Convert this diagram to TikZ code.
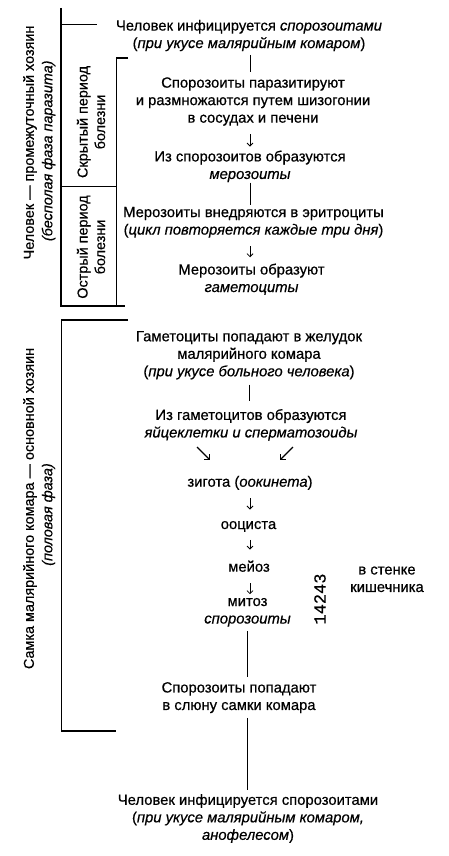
\documentclass[tikz,border=0pt]{standalone}
\usepackage{fontspec}
\setmainfont{Liberation Sans}[RawFeature={embolden=0.5}]
\newfontfamily\digitfont{Liberation Mono}[RawFeature={embolden=0.5}]
\usetikzlibrary{arrows.meta,calc}
\begin{document}
\begin{tikzpicture}[x=1pt,y=-1pt,
  txt/.style={align=center,inner sep=0pt,font=\fontsize{14.8}{17.5}\selectfont},
  one/.style={txt,text height=11.1pt,text depth=3.1pt},
  vlab/.style={align=center,inner sep=0pt,font=\fontsize{14.4}{17.5}\selectfont,rotate=90},
  brk/.style={line width=1.2pt},
  conn/.style={line width=0.8pt},
  arr/.style={line width=0.8pt,-{Straight Barb[length=3pt,width=6pt]}},
  darr/.style={line width=1.2pt,-{Straight Barb[length=3.5pt,width=7pt]}}
]
\useasboundingbox (0,0) rectangle (449,856);

% brackets
\draw[brk] (61,8) -- (61,307);
\draw[brk] (61,24.5) -- (97,24.5);
\draw[brk] (128,58) -- (116.5,58) -- (116.5,306);
\draw[brk] (61,186.5) -- (116.5,186.5);
\draw[brk] (61,306) -- (125,306);
\draw[brk] (128,320) -- (61.5,320) -- (61.5,731) -- (116,731);

% vertical labels
\node[vlab] (v1) at (30,142.5) {Человек — промежуточный хозяин};
\node[vlab] (v2) at (48.5,150.8) {\itshape (бесполая фаза паразита)};
\node[vlab] (v3) at (91,122) {Скрытый период\\болезни};
\node[vlab] (v4) at (91,247) {Острый период\\болезни};
\node[vlab] (v5) at (30,508.5) {Самка малярийного комара — основной хозяин};
\node[vlab] (v6) at (48.5,514.5) {\itshape (половая фаза)};

% main column
\node[txt] (n1) at (249,35.5) {Человек инфицируется \textit{спорозоитами}\\(\textit{при укусе малярийным комаром})};
\node[txt] (n2) at (253,101.5) {Спорозоиты паразитируют\\и размножаются путем шизогонии\\в сосудах и печени};
\node[txt] (n3) at (250,166.3) {Из спорозоитов образуются\\\textit{мерозоиты}};
\node[txt] (n4) at (253.5,222.3) {Мерозоиты внедряются в эритроциты\\(\textit{цикл повторяется каждые три дня})};
\node[txt] (n5) at (251.5,279.3) {Мерозоиты образуют\\\textit{гаметоциты}};
\node[txt] (n6) at (249,355.2) {Гаметоциты попадают в желудок\\малярийного комара\\(\textit{при укусе больного человека})};
\node[txt] (n7) at (251,424.8) {Из гаметоцитов образуются\\\textit{яйцеклетки и сперматозоиды}};
\node[one] (n8) at (250,482.7) {зигота (\textit{оокинета})};
\node[one] (n9) at (248.5,525) {ооциста};
\node[one] (n10) at (249,567.7) {мейоз};
\node[txt] (n11) at (247.5,612.3) {митоз\\\textit{спорозоиты}};
\node[txt] (n12) at (239,697.6) {Спорозоиты попадают\\в слюну самки комара};
\node[txt] (n13) at (248,818.5) {Человек инфицируется спорозоитами\\(\textit{при укусе малярийным комаром,}\\\textit{анофелесом})};
\node[txt] (side) at (387,579.3) {в стенке\\кишечника};
\node[inner sep=0pt,rotate=90,font=\digitfont\fontsize{17}{20}\selectfont] (brace) at (320,599) {14243};

% connectors
\draw[conn,shorten <=3.5pt,shorten >=5pt] (n1.south -| 250,0) -- (n2.north -| 250,0);
\draw[arr,shorten <=8.5pt,shorten >=3.8pt] (n2.south -| n3.north) -- (n3.north);
\draw[conn,shorten <=0.5pt,shorten >=1.8pt] (n3.south) -- (n3.south |- n4.north);
\draw[arr,shorten <=8.5pt,shorten >=6.2pt] (n4.south -| 250,0) -- (n5.north -| 250,0);
\draw[conn,shorten <=5pt,shorten >=7.8pt] (n6.south) -- (n6.south |- n7.north);
\coordinate (d1s) at (197,447);
\coordinate (d1e) at (210,460);
\coordinate (d2s) at (293,447);
\coordinate (d2e) at (280,460);
\draw[darr] (d1s) -- (d1e);
\draw[darr] (d2s) -- (d2e);
\draw[arr,shorten <=8pt,shorten >=8.2pt] (n8.south) -- (n8.south |- n9.north);
\draw[arr,shorten <=7.5pt,shorten >=10.8pt] (n9.south -| 250,0) -- (n10.north -| 250,0);
\draw[arr,shorten <=8pt,shorten >=3.6pt] (n10.south -| 250,0) -- (n11.north -| 250,0);
\draw[conn,shorten <=4.5pt,shorten >=5.2pt] (n11.south -| 247,0) -- (n12.north -| 247,0);
\draw[conn,shorten <=4.5pt,shorten >=4.2pt] (n12.south -| 247,0) -- (n13.north -| 247,0);
\end{tikzpicture}
\end{document}
